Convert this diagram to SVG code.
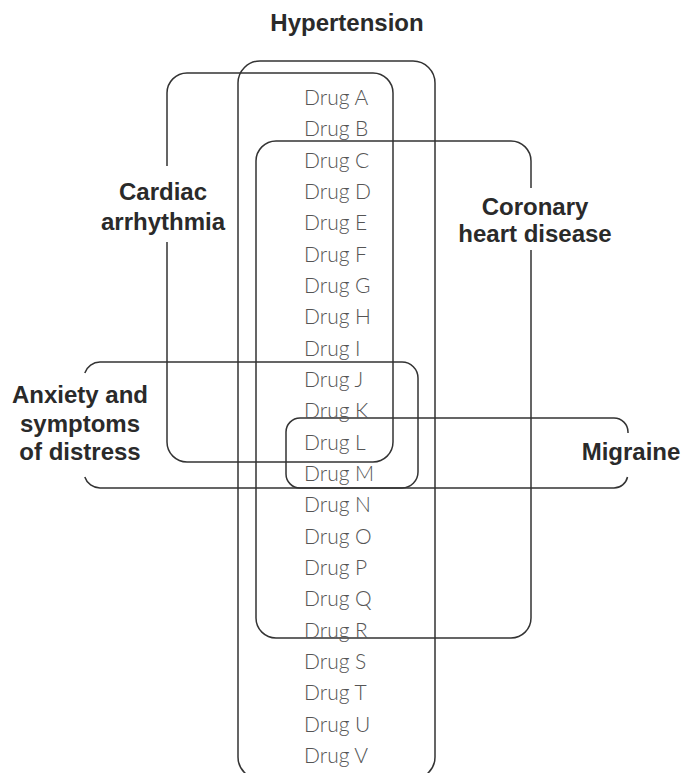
<svg xmlns="http://www.w3.org/2000/svg" width="684" height="773" viewBox="0 0 684 773">
<style>
.box{fill:none;stroke:#333;stroke-width:1.5}
.lbl{font-family:"Liberation Sans",Arial,sans-serif;font-weight:bold;font-size:24px;fill:#2a2a2a;text-anchor:middle}
.drug{font-family:"Lato","Liberation Sans",sans-serif;font-weight:300;font-size:21px;fill:#555}
</style>
<rect width="684" height="773" fill="#fff"/>
<g id="hypertension">
<rect class="box" x="238" y="61" width="197" height="718" rx="22"/>
<text class="lbl" x="347" y="31">Hypertension</text>
</g>
<g id="cardiac-arrhythmia">
<path class="box" d="M167,166 V93 A20,20 0 0 1 187,73 H373 A20,20 0 0 1 393,93 V442 A20,20 0 0 1 373,462 H187 A20,20 0 0 1 167,442 V242"/>
<text class="lbl" x="163" y="200">Cardiac</text>
<text class="lbl" x="163" y="230">arrhythmia</text>
</g>
<g id="coronary-heart-disease">
<path class="box" d="M531,188 V161 A20,20 0 0 0 511,141 H276 A20,20 0 0 0 256,161 V618 A20,20 0 0 0 276,638 H511 A20,20 0 0 0 531,618 V250"/>
<text class="lbl" x="535" y="215">Coronary</text>
<text class="lbl" x="535" y="242">heart disease</text>
</g>
<g id="anxiety">
<path class="box" d="M84.8,373 A16,16 0 0 1 100,362 H402 A16,16 0 0 1 418,378 V472 A16,16 0 0 1 402,488 H100 A16,16 0 0 1 84.8,477"/>
<text class="lbl" x="80" y="403">Anxiety and</text>
<text class="lbl" x="80" y="432">symptoms</text>
<text class="lbl" x="80" y="460">of distress</text>
</g>
<g id="migraine">
<path class="box" d="M628,433 V432 A14,14 0 0 0 614,418 H300 A14,14 0 0 0 286,432 V474 A14,14 0 0 0 300,488 H614 A14,14 0 0 0 627.5,477"/>
<text class="lbl" x="631" y="460">Migraine</text>
</g>
<g id="drugs">
<text class="drug" x="304" y="105">Drug A</text>
<text class="drug" x="304" y="136.3">Drug B</text>
<text class="drug" x="304" y="167.7">Drug C</text>
<text class="drug" x="304" y="199">Drug D</text>
<text class="drug" x="304" y="230.3">Drug E</text>
<text class="drug" x="304" y="261.7">Drug F</text>
<text class="drug" x="304" y="293">Drug G</text>
<text class="drug" x="304" y="324.3">Drug H</text>
<text class="drug" x="304" y="355.7">Drug I</text>
<text class="drug" x="304" y="387">Drug J</text>
<text class="drug" x="304" y="418.3">Drug K</text>
<text class="drug" x="304" y="449.7">Drug L</text>
<text class="drug" x="304" y="481">Drug M</text>
<text class="drug" x="304" y="512.3">Drug N</text>
<text class="drug" x="304" y="543.7">Drug O</text>
<text class="drug" x="304" y="575">Drug P</text>
<text class="drug" x="304" y="606.3">Drug Q</text>
<text class="drug" x="304" y="637.7">Drug R</text>
<text class="drug" x="304" y="669">Drug S</text>
<text class="drug" x="304" y="700.3">Drug T</text>
<text class="drug" x="304" y="731.7">Drug U</text>
<text class="drug" x="304" y="763">Drug V</text>
</g>
<g id="connectors"/>
</svg>
